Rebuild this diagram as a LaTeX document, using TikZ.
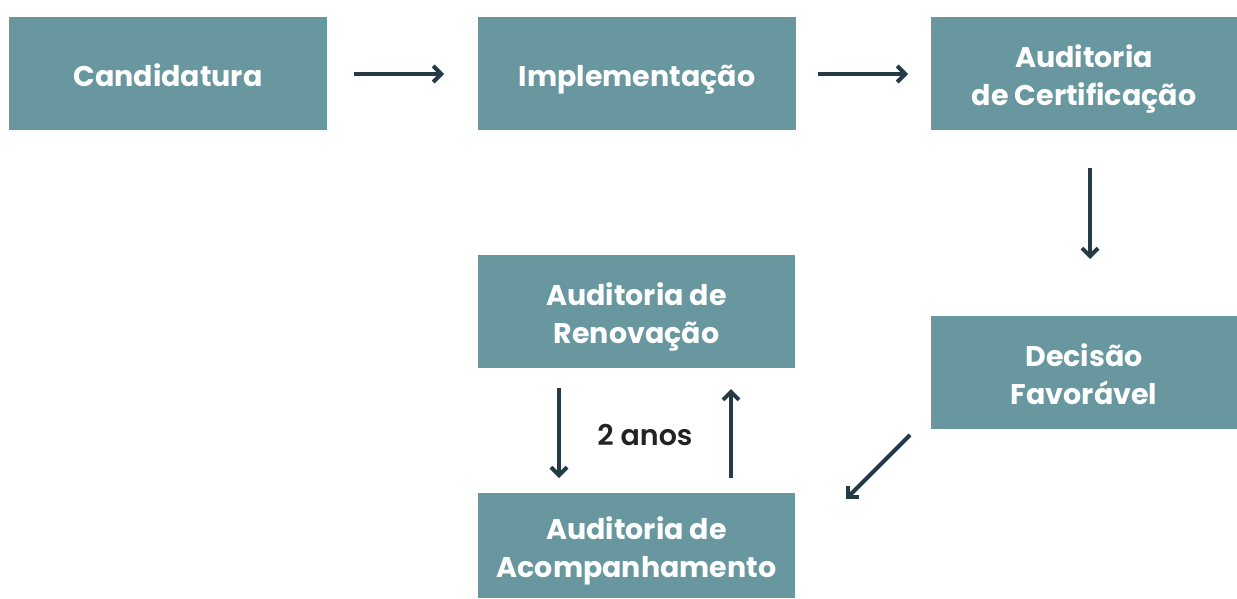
\documentclass[tikz,border=0pt]{standalone}
\usepackage{fontspec}
\setmainfont{Poppins}[BoldFont={Poppins Bold}]
\newfontfamily\semib{Poppins SemiBold}
\usetikzlibrary{arrows.meta}
\definecolor{boxc}{HTML}{6897A0}
\definecolor{arrc}{HTML}{243B47}
\definecolor{lblc}{HTML}{222222}
\newcommand\tstrut{\rule{0pt}{40pt}}
\newcommand\bstrut{\rule[-15pt]{0pt}{15pt}}
\tikzset{
  stepbox/.style={fill=boxc, draw=none, text=white, font=\fontsize{28.5}{38}\selectfont\bfseries, align=center, inner sep=0pt},
  flow/.style={draw=arrc, line width=4pt, -{Straight Barb[length=8pt,width=16pt,line width=4pt]}},
}
\begin{document}
\begin{tikzpicture}[x=1pt,y=-1pt]
\useasboundingbox (0,0) rectangle (1237,598);
\node[stepbox, minimum width=318pt, minimum height=113pt] (cand) at (168,73.5) {\tstrut Candidatura\bstrut};
\node[stepbox, minimum width=318pt, minimum height=113pt] (impl) at (637,73.5) {\tstrut Implementação\bstrut};
\node[stepbox, minimum width=306pt, minimum height=113pt] (cert) at (1084,73.5) {\tstrut Auditoria\\de Certificação\bstrut};
\node[stepbox, minimum width=306pt, minimum height=113pt] (dec) at (1084,372.5) {\tstrut Decisão\\Favorável\bstrut};
\node[stepbox, minimum width=317pt, minimum height=113pt] (ren) at (636.5,311.5) {\tstrut Auditoria de\\Renovação\bstrut};
\node[stepbox, minimum width=317pt, minimum height=105pt] (acomp) at (636.5,545.5) {\tstrut Auditoria de\\Acompanhamento\bstrut};
\node[font=\fontsize{28.5}{30}\selectfont\semib, text=lblc, inner sep=0pt] (lbl) at (645,437) {\rule[-6pt]{0pt}{28pt}2 anos};
\coordinate (a1s) at (354,74); \coordinate (a1e) at (444,74);
\coordinate (a2s) at (818,74); \coordinate (a2e) at (908,74);
\coordinate (a3s) at (1090,168); \coordinate (a3e) at (1090,259);
\coordinate (a4s) at (910,435); \coordinate (a4e) at (846,499);
\coordinate (a5s) at (559,388); \coordinate (a5e) at (559,478);
\coordinate (a6s) at (731,478); \coordinate (a6e) at (731,389);
\draw[flow] (a1s) -- (a1e);
\draw[flow] (a2s) -- (a2e);
\draw[flow] (a3s) -- (a3e);
\draw[flow] (a4s) -- (a4e);
\draw[flow] (a5s) -- (a5e);
\draw[flow] (a6s) -- (a6e);
\end{tikzpicture}
\end{document}
